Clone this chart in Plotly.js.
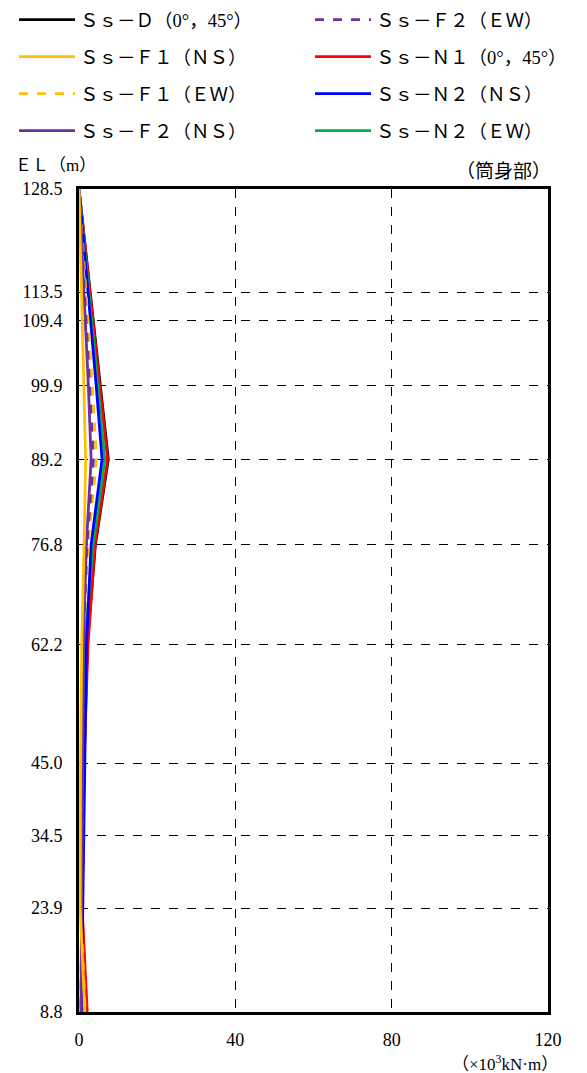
<!DOCTYPE html>
<html>
<head>
<meta charset="utf-8">
<script src="https://cdn.plot.ly/plotly-3.0.1.min.js"></script>
<style>html,body{margin:0;padding:0;background:#fff;}#chart{width:587px;height:1073px;}</style>
</head>
<body>
<div id="chart"></div>
<script>
// Elevations (m) of the nodes / tick positions
const elevations = [128.5, 113.5, 109.4, 99.9, 89.2, 76.8, 62.2, 45.0, 34.5, 23.9, 8.8];
const yTickText = ["128.5", "113.5", "109.4", "99.9", "89.2", "76.8", "62.2", "45.0", "34.5", "23.9", "8.8"];
const xTickVals = [0, 40, 80, 120];
const xTickText = ["0", "40", "80", "120"];

// Bending moment (x10^3 kN·m) at each elevation
const ssD    = [0, 2.9, 3.7, 5.5, 7.5, 4.2, 2.1, 1.3, 1.1, 0.8, 1.6];
const ssF1NS = [0, 0.7, 0.9, 1.3, 1.7, 1.3, 0.7, 0.4, 0.4, 0.3, 1.5];
const ssF1EW = [0, 1.8, 2.3, 3.4, 4.5, 2.3, 1.0, 0.6, 0.5, 0.4, 1.6];
const ssF2NS = [0, 1.3, 1.6, 2.4, 3.1, 1.9, 1.1, 0.9, 0.8, 0.6, 0.5];
const ssF2EW = [0, 1.4, 1.8, 2.8, 3.7, 2.0, 1.1, 0.9, 0.8, 0.6, 0.5];
const ssN1   = [0, 2.8, 3.6, 5.4, 7.3, 4.1, 2.3, 1.3, 1.1, 0.8, 2.1];
const ssN2NS = [0, 2.3, 3.0, 4.4, 5.9, 3.1, 1.9, 1.45, 1.35, 0.9, 0.6];
const ssN2EW = [0, 2.5, 3.2, 4.8, 6.6, 3.6, 1.5, 0.9, 0.8, 0.6, 0.9];

const names = {
  D: "Ｓｓ－Ｄ（0°，45°）",
  F1NS: "Ｓｓ－Ｆ１（ＮＳ）",
  F1EW: "Ｓｓ－Ｆ１（ＥＷ）",
  F2NS: "Ｓｓ－Ｆ２（ＮＳ）",
  F2EW: "Ｓｓ－Ｆ２（ＥＷ）",
  N1: "Ｓｓ－Ｎ１（0°，45°）",
  N2NS: "Ｓｓ－Ｎ２（ＮＳ）",
  N2EW: "Ｓｓ－Ｎ２（ＥＷ）"
};

function tr(x, name, color, dash, legend, grp) {
  return {
    x: x, y: elevations, type: "scatter", mode: "lines", name: name,
    line: {color: color, width: 2.8, dash: dash},
    legend: legend, legendgroup: grp, hoverinfo: "skip"
  };
}

const data = [
  tr(ssD, names.D, "#000000", "solid", "legend", "g1"),
  tr(ssN1, names.N1, "#ff0000", "solid", "legend2", "g6"),
  tr(ssN2EW, names.N2EW, "#00b050", "solid", "legend2", "g8"),
  tr(ssN2NS, names.N2NS, "#0000ff", "solid", "legend2", "g7"),
  tr(ssF1EW, names.F1EW, "#ffc000", "dash", "legend", "g3"),
  tr(ssF2EW, names.F2EW, "#7030a0", "dash", "legend2", "g5"),
  tr(ssF2NS, names.F2NS, "#7030a0", "solid", "legend", "g4"),
  tr(ssF1NS, names.F1NS, "#ffc000", "solid", "legend", "g2")
];
// legend ordering
const ranks = {g1:1,g2:2,g3:3,g4:4,g5:1,g6:2,g7:3,g8:4};
data.forEach(d => d.legendrank = ranks[d.legendgroup]);

const fontFam = "Liberation Serif, 'Noto Sans CJK JP', serif";
const legendBase = {
  xref: "container", yref: "container", yanchor: "top", xanchor: "left",
  font: {family: fontFam, size: 18.5, color: "#000"},
  traceorder: "grouped", tracegroupgap: 10, bgcolor: "rgba(0,0,0,0)",
  itemwidth: 56
};

const layout = {
  width: 587, height: 1073,
  margin: {l: 79, r: 39, t: 189, b: 61, autoexpand: false},
  paper_bgcolor: "#fff", plot_bgcolor: "#fff",
  showlegend: true,
  legend: Object.assign({}, legendBase, {x: 14/587, y: 1 - 1/1073}),
  legend2: Object.assign({}, legendBase, {x: 310/587, y: 1 - 1/1073}),
  xaxis: {
    range: [0, 120], tickvals: xTickVals, ticktext: xTickText,
    showgrid: true, gridcolor: "#000", gridwidth: 1, griddash: "dash",
    showline: true, linecolor: "#000", linewidth: 3, mirror: true,
    ticks: "", ticklabelstandoff: 9, zeroline: false,
    tickfont: {family: fontFam, size: 18, color: "#000"}
  },
  yaxis: {
    range: [8.8, 128.5], tickvals: elevations, ticktext: yTickText,
    showgrid: true, gridcolor: "#000", gridwidth: 1, griddash: "dash",
    showline: true, linecolor: "#000", linewidth: 3, mirror: true,
    ticks: "", ticklabelstandoff: 10, zeroline: false,
    tickfont: {family: fontFam, size: 18, color: "#000"}
  },
  annotations: [
    {text: "ＥＬ（m）", xref: "paper", yref: "paper", x: -0.14, y: 1.0145, xanchor: "left", yanchor: "bottom",
     showarrow: false, font: {family: fontFam, size: 17, color: "#000"}},
    {text: "（筒身部）", xref: "paper", yref: "paper", x: 1.01, y: 1.006, xanchor: "right", yanchor: "bottom",
     showarrow: false, font: {family: fontFam, size: 19, color: "#000"}},
    {text: "（×10<sup>3</sup>kN·m）", xref: "paper", yref: "paper", x: 1.025, y: -0.046, xanchor: "right", yanchor: "top",
     showarrow: false, font: {family: fontFam, size: 17, color: "#000"}}
  ]
};

Plotly.newPlot("chart", data, layout, {displayModeBar: false, staticPlot: true});
</script>
</body>
</html>
